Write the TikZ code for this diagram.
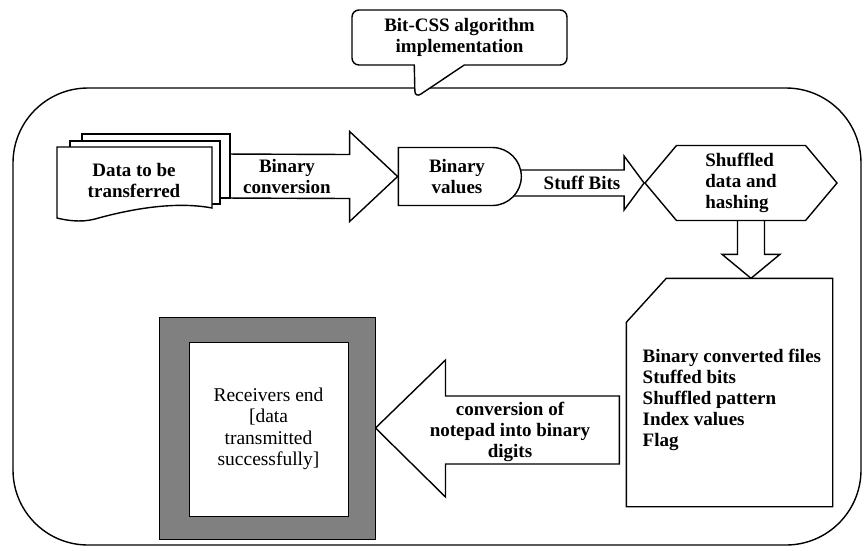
\documentclass[tikz,border=0pt]{standalone}
\usepackage{fontspec}
\setmainfont{Liberation Serif}
\usetikzlibrary{positioning,calc,backgrounds,shapes.misc,shapes.symbols,shapes.callouts}

\begin{document}
\begin{tikzpicture}[x=1pt, y=-1pt, line width=1.4pt, line join=miter,
    lbl/.style={font=\fontsize{19}{21}\selectfont\bfseries, align=center, inner sep=1pt},
    plain/.style={font=\fontsize{19.5}{21.5}\selectfont, align=center},
    blockarr/.style={draw, fill=white, line width=1.4pt, line join=miter}]
    \useasboundingbox (0,0) rectangle (867,550);

    % frame of the whole algorithm
    \draw[rounded corners=75pt] (13,88) rectangle (861,545);

    \node[rectangle callout, draw, fill=white, rounded corners=7pt, lbl,
          minimum width=215pt, minimum height=55pt,
          callout absolute pointer={(415,98)}, callout pointer width=50pt] (algo) at (459.5,37.5) {Bit-CSS algorithm\\implementation};

    % stack of files
    \draw[fill=white] (82,134) rectangle (230,198);
    \draw[fill=white] (70,141) rectangle (220,204);
    \draw[fill=white] (57,147) -- (212,147) -- (212,208) .. controls (170,200) and (120,212) .. (95,219) .. controls (80,223) and (65,220) .. (57,218) -- cycle;
    \node[lbl] (data) at (134,180) {Data to be\\transferred};
    \coordinate (stack) at (222,176);

    \node[draw, fill=white, rounded rectangle, rounded rectangle left arc=none, lbl,
          minimum width=125pt, minimum height=58pt] (binval) at (457,176.5) {Binary\\values};

    \node[draw, fill=white, signal, signal to=west and east, signal pointer angle=100, lbl, align=left,
          minimum width=192pt, minimum height=75pt] (shuffle) at (741,183) {Shuffled\\data and\\hashing};

    % file with the cut corner
    \node[minimum width=205pt, minimum height=227pt] (notes) at (729.5,392.5) {};
    \draw[fill=white] (notes.north east) -- (notes.south east) -- (notes.south west) -- ($(notes.north west)+(0,44)$)
        -- ($(notes.north west)+(40,0)$) -- cycle;
    \node[lbl, align=left, anchor=west] (notelist) at (641,400)
          {Binary converted files\\Stuffed bits\\Shuffled pattern\\Index values\\Flag};

    \node[draw, fill=gray, line width=1pt, minimum width=216pt, minimum height=222pt] (recvframe) at (267,428) {};
    \node[draw, fill=white, line width=1pt, plain, minimum width=159pt, minimum height=174pt] (recv) at (268.5,429)
          {Receivers end\\{[}data\\transmitted\\successfully]};

    \coordinate (dn) at ($(shuffle.south)+(10,-5)$);
    \coordinate (dntip) at (dn |- notes.north);
    \coordinate (back) at ($(recvframe.east -| notes.west)+(-7,2)$);

    \begin{pgfonlayer}{background}
    \draw[blockarr] ($(stack)+(0,-22)$) -- ($(binval.west)+(-48,-22)$) -- ($(binval.west)+(-48,-45)$) -- (binval.west)
        -- ($(binval.west)+(-48,45)$) -- ($(binval.west)+(-48,22)$) -- ($(stack)+(0,22)$) -- cycle;
    \draw[blockarr] ($(binval.center |- shuffle.west)+(0,-13)$) -- ($(shuffle.west)+(-20,-13)$) -- ($(shuffle.west)+(-20,-27)$) -- (shuffle.west)
        -- ($(shuffle.west)+(-20,27)$) -- ($(shuffle.west)+(-20,13)$) -- ($(binval.center |- shuffle.west)+(0,13)$) -- cycle;
    \draw[blockarr] ($(dn)+(-13.5,0)$) -- ($(dntip)+(-13.5,-24)$) -- ($(dntip)+(-29,-24)$) -- (dntip)
        -- ($(dntip)+(29,-24)$) -- ($(dntip)+(13.5,-24)$) -- ($(dn)+(13.5,0)$) -- cycle;
    \draw[blockarr] ($(back)+(0,-34)$) -- ($(recvframe.east)+(70,-32)$) -- ($(recvframe.east)+(70,-68)$) -- (recvframe.east)
        -- ($(recvframe.east)+(70,69)$) -- ($(recvframe.east)+(70,36)$) -- ($(back)+(0,34)$) -- cycle;
    \end{pgfonlayer}

    \node[lbl] (convlbl) at (287,176) {Binary\\conversion};
    \node[lbl] (stufflbl) at (582,183) {Stuff Bits};
    \node[lbl] (notepadlbl) at (510,432) {conversion of\\notepad into binary\\digits};
\end{tikzpicture}
\end{document}
